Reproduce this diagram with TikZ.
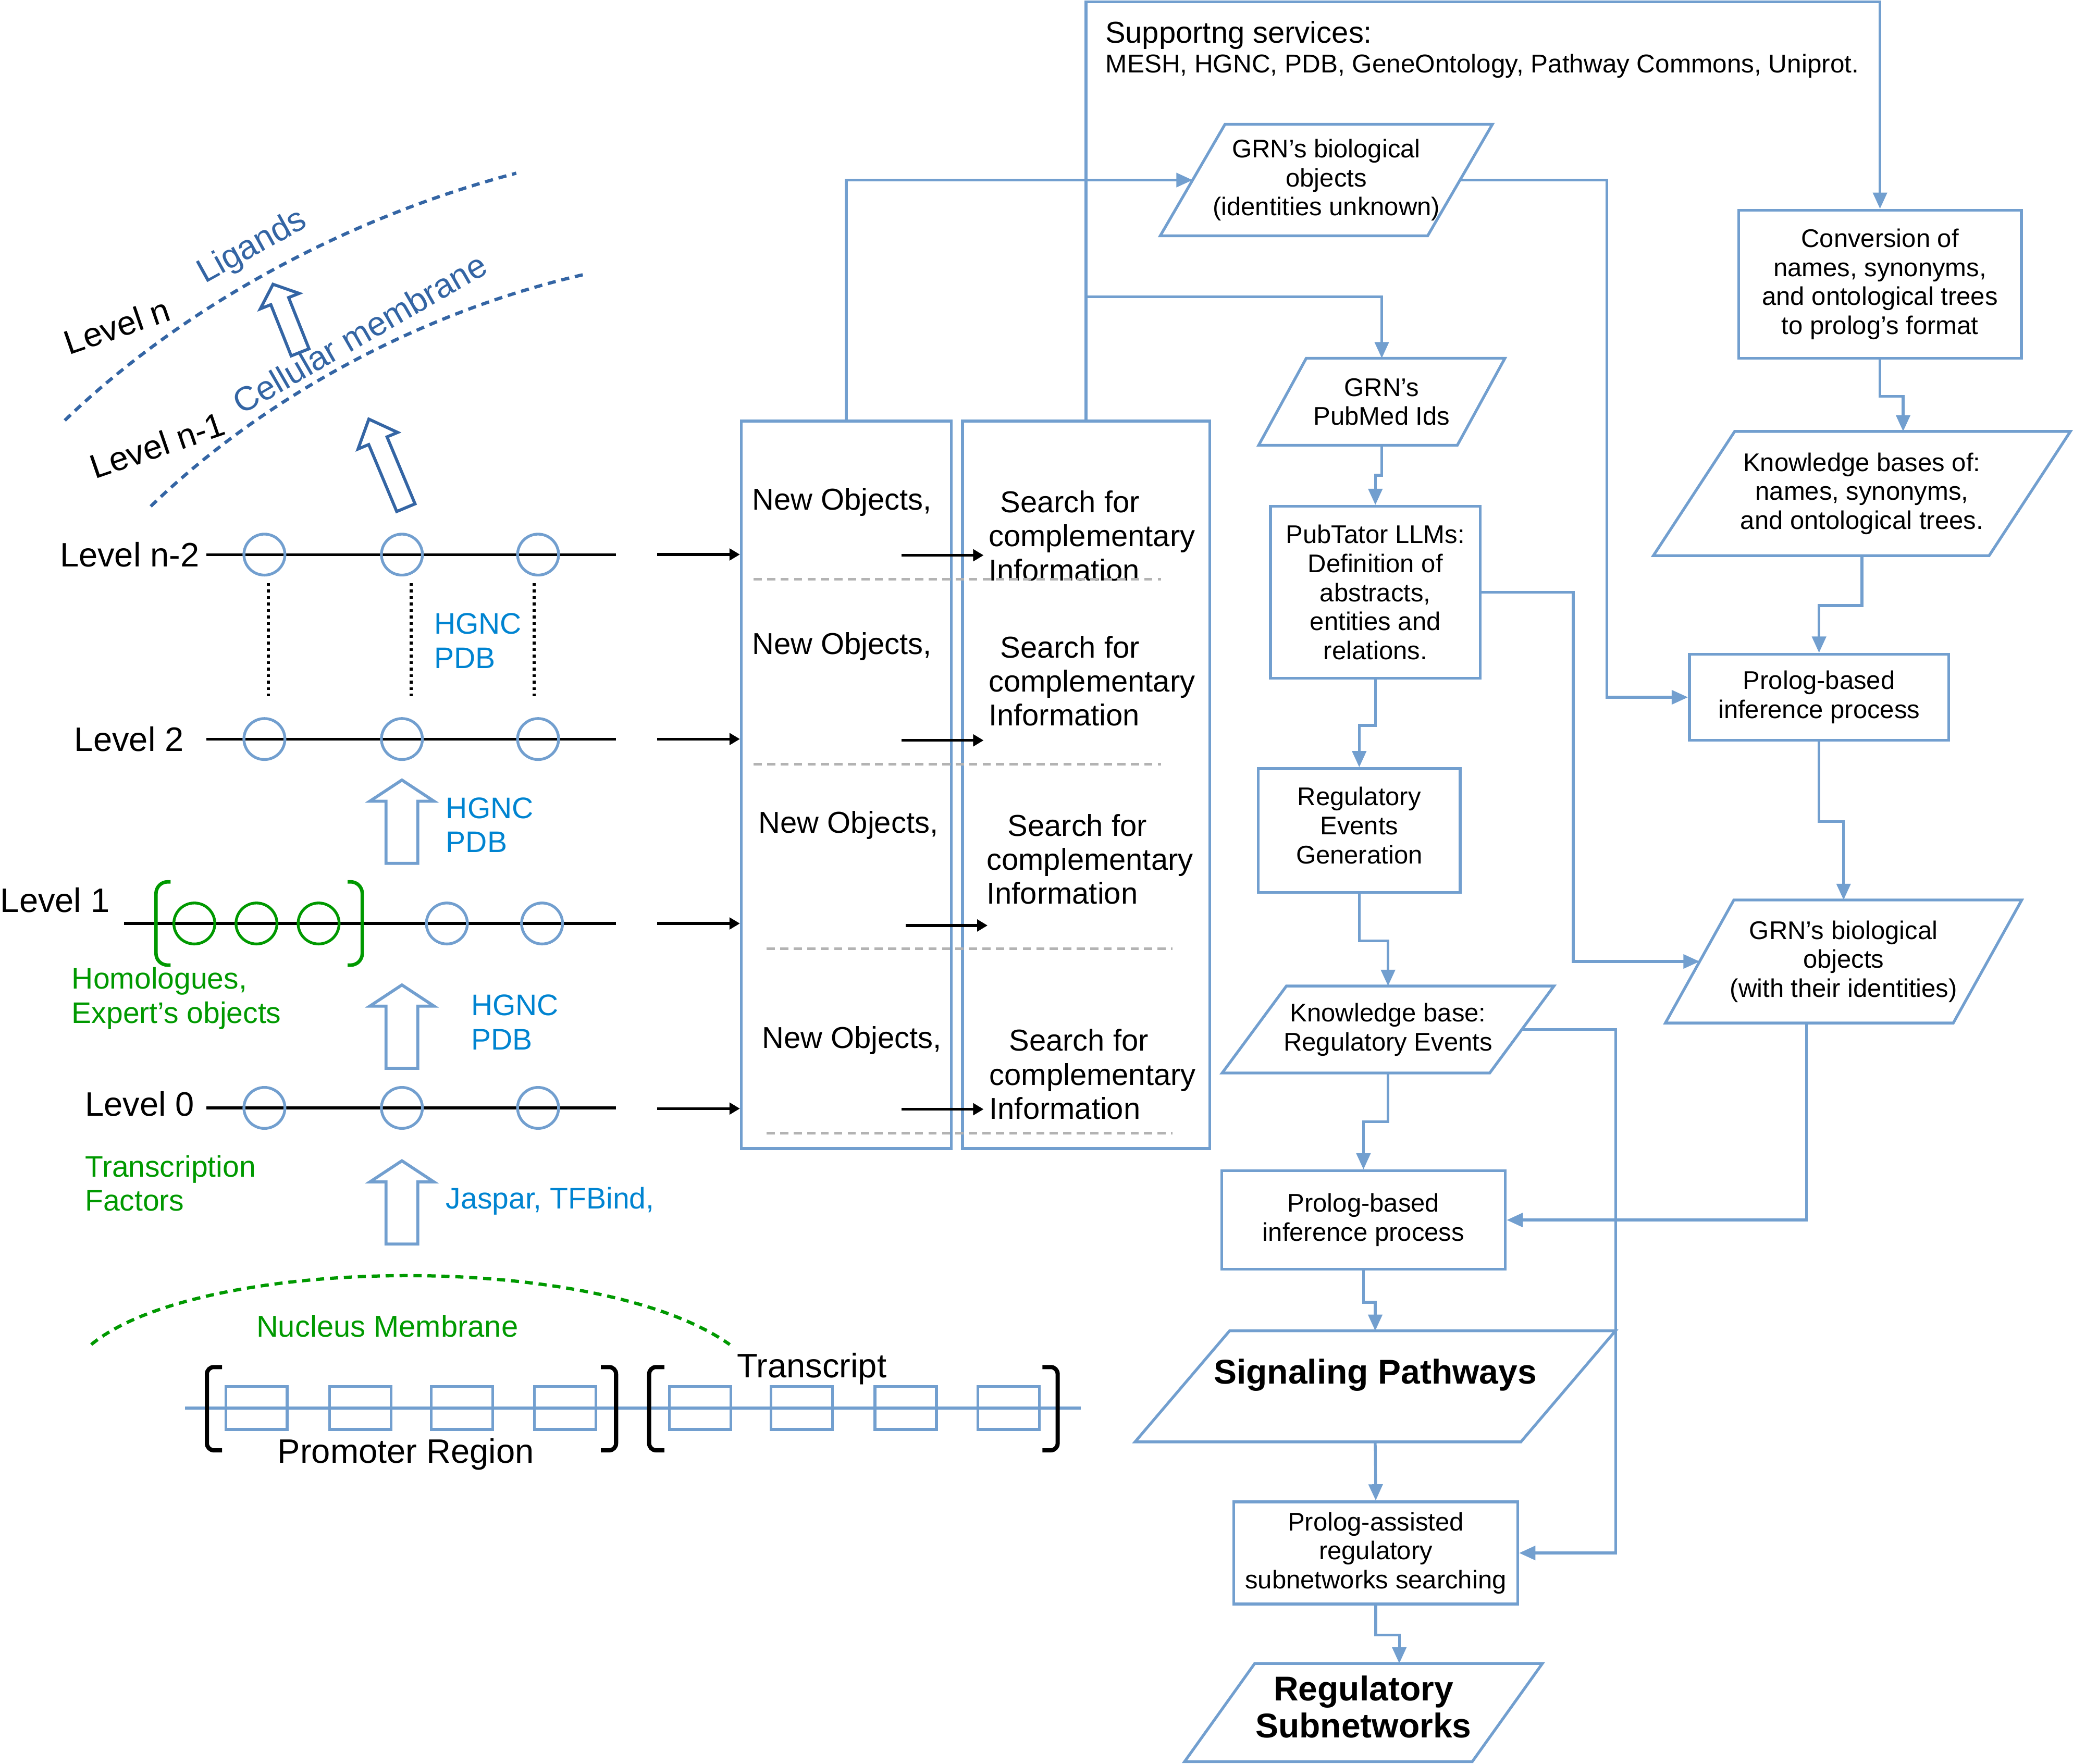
\documentclass[tikz,border=0pt]{standalone}
\usepackage{fontspec}
\setmainfont{Liberation Sans}
\usetikzlibrary{arrows.meta, calc}

\definecolor{lineblue}{HTML}{729FCF}
\definecolor{darkblue}{HTML}{3465A4}
\definecolor{textblue}{HTML}{0084D1}
\definecolor{textgreen}{HTML}{009900}
\definecolor{dashgray}{HTML}{B3B3B3}

% slanted outline round a named data node (node, half slant)
\newcommand{\paraframe}[2]{%
  \draw[lineblue, line width=1.2pt]
    ($(#1.north west)+(#2,0)$) -- ($(#1.north east)+(#2,0)$) --
    ($(#1.south east)-(#2,0)$) -- ($(#1.south west)-(#2,0)$) -- cycle;}

% hollow block arrow (base, angle, length, head length, head width, shaft width, colour)
\newcommand{\hollowarrow}[7]{%
  \begin{scope}[shift={#1}, rotate=#2]
    \draw[#7, line width=1.3pt]
      (-#6/2,0) -- (-#6/2,-#3+#4) -- (-#5/2,-#3+#4) -- (0,-#3)
      -- (#5/2,-#3+#4) -- (#6/2,-#3+#4) -- (#6/2,0) -- cycle;
  \end{scope}}

\begin{document}
\begin{tikzpicture}[
    x=0.02cm, y=-0.02cm,
    lvl/.style={font=\fontsize{14.6}{17}\selectfont, inner sep=0pt},
    srcblue/.style={font=\fontsize{12.8}{14.8}\selectfont, text=textblue,
                    align=left, inner sep=0pt, anchor=west},
    srcgreen/.style={srcblue, text=textgreen},
    lvdot/.style={circle, draw=lineblue, line width=1.2pt,
                  minimum size=0.62cm, inner sep=0pt},
    hdot/.style={lvdot, draw=textgreen},
    lvline/.style={black, line width=1.2pt},
    vdots/.style={black, line width=1.2pt, dash pattern=on 1.2pt off 1.6pt},
    bigbox/.style={draw=lineblue, line width=1.2pt, inner sep=0pt},
    boxtext/.style={font=\fontsize{13}{14.6}\selectfont, inner sep=0pt,
                    align=left, anchor=west},
    flowbox/.style={rectangle, draw=lineblue, line width=1.2pt, inner sep=0pt,
                    align=center, font=\fontsize{11}{12.5}\selectfont},
    parabox/.style={rectangle, inner sep=0pt, outer sep=0pt, align=center,
                    font=\fontsize{11}{12.5}\selectfont},
    titletext/.style={font=\fontsize{14.8}{16}\selectfont\bfseries},
    flow/.style={lineblue, line width=1.2pt},
    flowarrow/.style={flow, -{Triangle[length=7pt, width=6pt]}},
    feed/.style={black, line width=1.2pt, -{Triangle[length=4.5pt, width=5pt]}},
    sepline/.style={dashgray, line width=1.2pt, dash pattern=on 3.5pt off 2.3pt},
    membrane/.style={darkblue, line width=1.4pt, dash pattern=on 3.5pt off 2.5pt},
    gene/.style={rectangle, draw=lineblue, line width=1.2pt,
                 minimum width=0.93cm, minimum height=0.65cm, inner sep=0pt},
    brack/.style={black, line width=1.8pt, rounded corners=3pt}
]
\useasboundingbox (0,0) rectangle (1568,1334);

% --- membranes (top left) ---
\draw[membrane] (49,318) .. controls (130,240) and (250,168) .. (390.5,131);
\draw[membrane] (114,383) .. controls (200,300) and (320,235) .. (444.5,207);
\node[lvl, rotate=19] (lvn) at (88.5,246.6) {Level n};
\node[lvl, rotate=19] (lvn1) at (119,336.7) {Level n-1};
\node[lvl, rotate=29, text=darkblue] (lig) at (191,187) {Ligands};
\node[lvl, rotate=30, text=darkblue] (cell) at (272,252) {Cellular membrane};
\hollowarrow{(227,266.5)}{21.7}{55.4}{13.7}{31.6}{14.5}{darkblue}
\hollowarrow{(307,384)}{22.7}{72.6}{17.7}{32.5}{15}{darkblue}

% --- levels ---
\node[lvl, anchor=west] (lbn2) at (45,419.5) {Level n-2};
\node[lvl, anchor=west] (lb2) at (56,559) {Level 2};
\node[lvl, anchor=west] (lb1) at (0,681) {Level 1};
\node[lvl, anchor=west] (lb0) at (64,835) {Level 0};

\coordinate (lvn2s) at (156,419.5); \coordinate (lvn2e) at (466,419.5);
\coordinate (lv2s) at (156,559);    \coordinate (lv2e) at (466,559);
\coordinate (lv1s) at (94,698.5);   \coordinate (lv1e) at (466,698.5);
\coordinate (lv0s) at (156,838);    \coordinate (lv0e) at (466,838);
\draw[lvline] (lvn2s) -- (lvn2e);
\draw[lvline] (lv2s) -- (lv2e);
\draw[lvline] (lv1s) -- (lv1e);
\draw[lvline] (lv0s) -- (lv0e);

\foreach \x/\n in {200/a, 304/b, 407/c} {
  \node[lvdot] (ln2\n) at (\x,419.5) {};
  \node[lvdot] (l2\n) at (\x,559) {};
  \node[lvdot] (l0\n) at (\x,838) {};
}
\foreach \x/\n in {147/a, 194/b, 241/c}
  \node[hdot] (l1\n) at (\x,698.5) {};
\node[lvdot] (l1d) at (338,698.5) {};
\node[lvdot] (l1e) at (410,698.5) {};

% dotted gaps between level 2 and level n-2
\foreach \n/\dx in {a/3, b/7, c/-3}
  \draw[vdots] ($(ln2\n.south)+(\dx,5)$) -- ($(l2\n.north)+(\dx,-15)$);

% green brackets round the homologues
\draw[textgreen, line width=1.5pt, rounded corners=5pt]
  (129,667) -- (118,667) -- (118,730) -- (129,730);
\draw[textgreen, line width=1.5pt, rounded corners=5pt]
  (263,667) -- (274,667) -- (274,730) -- (263,730);

% hollow arrows between levels
\hollowarrow{(304,653)}{0}{63}{16}{48.5}{24}{lineblue}
\hollowarrow{(304,808)}{0}{63}{16}{48.5}{24}{lineblue}
\hollowarrow{(304,941)}{0}{63}{16}{48.5}{24}{lineblue}

\node[srcblue] (src3) at (328,484.5) {HGNC\\PDB};
\node[srcblue] (src2) at (337,624) {HGNC\\PDB};
\node[srcblue] (src1) at (356,773) {HGNC\\PDB};
\node[srcblue] (src0) at (337,908.5) {Jaspar, TFBind,};
\node[srcgreen] (homol) at (54,755.3) {Homologues,\\Expert’s objects};
\node[srcgreen] (tfs) at (64,895) {Transcription\\Factors};

% --- nucleus and gene ---
\draw[textgreen, line width=1.4pt, dash pattern=on 3.5pt off 2.5pt]
  (69,1017) .. controls (150,950) and (450,945) .. (552,1017);
\node[font=\fontsize{13}{15}\selectfont, text=textgreen] (nucl) at (293,1003) {Nucleus Membrane};

\coordinate (dnas) at (140,1065);
\coordinate (dnae) at (817.5,1065);
\draw[lineblue, line width=1.4pt] (dnas) -- (dnae);
\foreach \x [count=\i] in {194, 272.5, 349.5, 427.5}
  \node[gene] (pr\i) at (\x,1065) {};
\foreach \x [count=\i] in {529.5, 606.5, 685, 763}
  \node[gene] (tr\i) at (\x,1065) {};
\draw[brack] (168,1034) -- (156.5,1034) -- (156.5,1097) -- (168,1097);
\draw[brack] (454.5,1034) -- (466,1034) -- (466,1097) -- (454.5,1097);
\draw[brack] (502.5,1034) -- (491,1034) -- (491,1097) -- (502.5,1097);
\draw[brack] (788.5,1034) -- (800,1034) -- (800,1097) -- (788.5,1097);
\node[lvl] (prom) at (307,1100) {Promoter Region};
\node[lvl] (trans) at (614,1035.5) {Transcript};

% --- new objects / search columns ---
\node[bigbox, minimum width=3.178cm, minimum height=11.008cm] (newbox) at (640.15,593.6) {};
\node[bigbox, minimum width=3.74cm, minimum height=11.008cm] (search) at (821.5,593.6) {};

\node[boxtext] (no3) at (568.6,379.6) {New Objects,};
\node[boxtext] (no2) at (568.6,489) {New Objects,};
\node[boxtext] (no1) at (573.5,624) {New Objects,};
\node[boxtext] (no0) at (576,787) {New Objects,};
\node[boxtext] (sf3) at (747.5,405.3) {\hspace*{5pt}Search for\\complementary\\Information};
\node[boxtext] (sf2) at (747.5,515) {\hspace*{5pt}Search for\\complementary\\Information};
\node[boxtext] (sf1) at (746,649.8) {\hspace*{9pt}Search for\\complementary\\Information};
\node[boxtext] (sf0) at (748,812.5) {\hspace*{8.5pt}Search for\\complementary\\Information};

\coordinate (sp3s) at (570,438);   \coordinate (sp3e) at (878,438);
\coordinate (sp2s) at (570,578);   \coordinate (sp2e) at (878,578);
\coordinate (sp1s) at (580,717.5); \coordinate (sp1e) at (887,717.5);
\coordinate (sp0s) at (580,857);   \coordinate (sp0e) at (887,857);
\draw[sepline] (sp3s) -- (sp3e);
\draw[sepline] (sp2s) -- (sp2e);
\draw[sepline] (sp1s) -- (sp1e);
\draw[sepline] (sp0s) -- (sp0e);

% level outputs into the columns
\coordinate (in3) at (497,419.4);
\coordinate (in2) at (497,559);
\coordinate (in1) at (497,698.5);
\coordinate (in0) at (497,838.5);
\draw[feed] (in3) -- (in3 -| newbox.west);
\draw[feed] (in2) -- (in2 -| newbox.west);
\draw[feed] (in1) -- (in1 -| newbox.west);
\draw[feed] (in0) -- (in0 -| newbox.west);

\coordinate (pa3) at (682,420); \coordinate (pb3) at (744,420);
\coordinate (pa2) at (682,560); \coordinate (pb2) at (744,560);
\coordinate (pa1) at (685,700); \coordinate (pb1) at (747,700);
\coordinate (pa0) at (682,839); \coordinate (pb0) at (744,839);
\draw[feed] (pa3) -- (pb3);
\draw[feed] (pa2) -- (pb2);
\draw[feed] (pa1) -- (pb1);
\draw[feed] (pa0) -- (pb0);

% --- supporting services ---
\node[font=\fontsize{13}{15}\selectfont, inner sep=0pt, anchor=west] (svc) at (835.7,26.8) {Supportng services:};
\node[font=\fontsize{11.1}{13}\selectfont, inner sep=0pt, anchor=west] (svclist) at (836,49.8)
  {MESH, HGNC, PDB, GeneOntology, Pathway Commons, Uniprot.};

% --- flow boxes ---
\node[parabox, minimum width=4.046cm, minimum height=1.688cm] (grnA) at (1003.2,136.2)
  {GRN’s biological\\objects\\(identities unknown)};
\paraframe{grnA}{24.5}
\node[parabox, minimum width=3.006cm, minimum height=1.316cm] (pubmed) at (1045.15,303.9)
  {GRN’s\\PubMed Ids};
\paraframe{pubmed}{18}
\node[flowbox, minimum width=4.28cm, minimum height=2.24cm] (conv) at (1422,215)
  {Conversion of\\names, synonyms,\\and ontological trees\\to prolog’s format};
\node[parabox, minimum width=5.08cm, minimum height=1.88cm] (kbases) at (1408.3,373.3)
  {Knowledge bases of:\\names, synonyms,\\and ontological trees.};
\paraframe{kbases}{30.75}
\node[flowbox, minimum width=3.172cm, minimum height=2.6cm] (pubtator) at (1040.3,448)
  {PubTator LLMs:\\Definition of\\abstracts,\\entities and\\relations.};
\node[flowbox, minimum width=3.924cm, minimum height=1.304cm] (prolog1) at (1375.9,527.4)
  {Prolog-based\\inference process};
\node[flowbox, text depth=4.5pt, minimum width=3.056cm, minimum height=1.872cm] (regev) at (1028.1,628.2)
  {Regulatory\\Events\\Generation};
\node[parabox, minimum width=4.356cm, minimum height=1.862cm] (grnB) at (1394.45,727.25)
  {GRN’s biological\\objects\\(with their identities)};
\paraframe{grnB}{25.9}
\node[parabox, minimum width=4.048cm, minimum height=1.316cm] (kbreg) at (1049.9,778.7)
  {Knowledge base:\\Regulatory Events};
\paraframe{kbreg}{24.3}
\node[flowbox, minimum width=4.292cm, minimum height=1.488cm] (prolog2) at (1031.3,922.8)
  {Prolog-based\\inference process};
\node[parabox, titletext, text depth=13pt, minimum width=5.838cm, minimum height=1.68cm]
  (signal) at (1040.2,1048.6) {Signaling Pathways};
\paraframe{signal}{35.75}
\node[flowbox, minimum width=4.296cm, minimum height=1.546cm] (assist) at (1040.6,1174.65)
  {Prolog-assisted\\regulatory\\subnetworks searching};
\node[parabox, titletext, text depth=5pt, minimum width=4.353cm, minimum height=1.486cm]
  (regsub) at (1031.3,1295.35) {Regulatory\\Subnetworks};
\paraframe{regsub}{26.55}

% --- flow connectors ---
\coordinate (svcTR) at (1422,1.4);
\coordinate (svcbranch) at (821.5,224.5);
\draw[flowarrow] (search.north) |- (svcTR) -- (conv.north);
\draw[flowarrow] (svcbranch) -| (pubmed.north);
\draw[flowarrow] (newbox.north) |- (grnA.west);
\draw[flowarrow] (grnA.east) -- ++(111,0) |- (prolog1.west);
\draw[flowarrow] (conv.south) -- ++(0,27.7) -| ($(kbases.north)+(31.2,0)$);
\draw[flowarrow] (kbases.south) -- ++(0,37.7) -| (prolog1.north);
\draw[flowarrow] (prolog1.south) -- ++(0,60.4) -| (grnB.north);
\draw[flowarrow] (pubmed.south) -- ++(0,22.7) -| (pubtator.north);
\draw[flowarrow] (pubtator.east) -- ++(69.4,0) |- (grnB.west);
\draw[flowarrow] (pubtator.south) -- ++(0,34.6) -| (regev.north);
\draw[flowarrow] (regev.south) -- ++(0,35.6) -| (kbreg.north);
\draw[flowarrow] (kbreg.east) -- ++(70.9,0) |- (assist.east);
\draw[flowarrow] (kbreg.south) -- ++(0,36.9) -| (prolog2.north);
\draw[flowarrow] ($(grnB.south)+(-28,0)$) |- (prolog2.east);
\draw[flowarrow] (prolog2.south) -- ++(0,24) -| (signal.north);
\draw[flowarrow] (signal.south) -- (assist.north);
\draw[flowarrow] (assist.south) -- ++(0,22.4) -| ($(regsub.north)+(27.1,0)$);

\end{tikzpicture}
\end{document}
